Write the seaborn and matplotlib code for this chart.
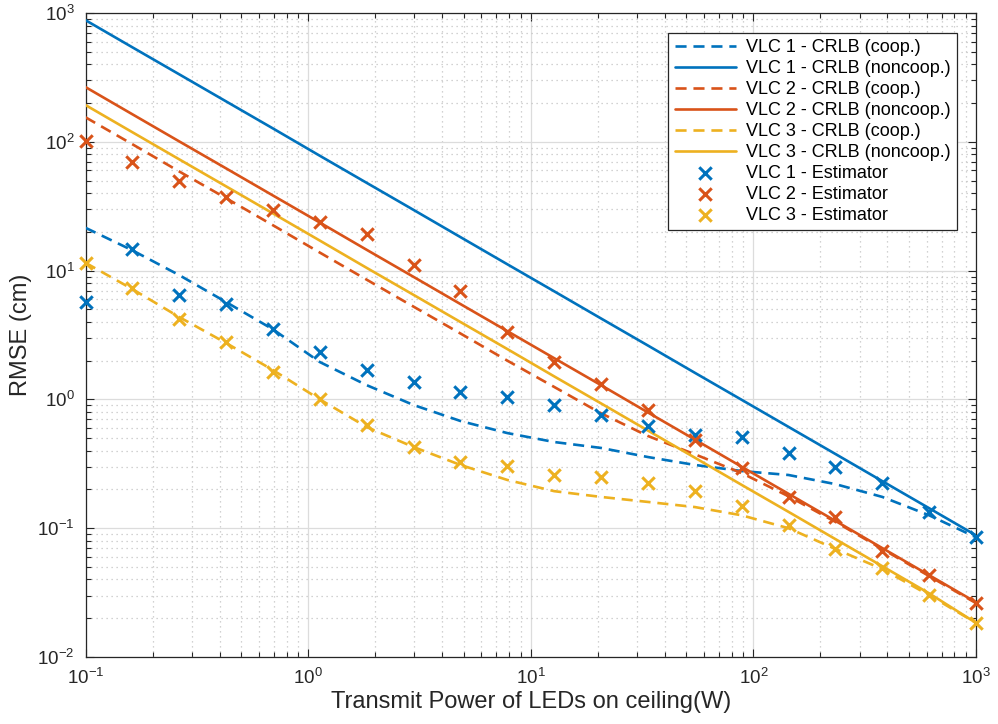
import numpy as np
import pandas as pd
import matplotlib
matplotlib.use("Agg")
import matplotlib.pyplot as plt
import seaborn as sns
from matplotlib.ticker import LogLocator, NullFormatter

# ---------------- data ----------------
power = [0.1, 0.162, 0.263, 0.428, 0.695, 1.129, 1.833, 2.976, 4.833, 7.848,
         12.74, 20.69, 33.6, 54.56, 88.59, 143.8, 233.6, 379.3, 615.8, 1000.0]

vlc1_coop = [21.5, 14.4, 9.25, 5.7, 3.5, 1.95, 1.29, 0.905, 0.68, 0.548,
             0.467, 0.42, 0.357, 0.31, 0.278, 0.259, 0.22, 0.175, 0.126, 0.085]
vlc1_noncoop = [880, 543, 335, 206, 127, 77.9, 48.0, 29.6, 18.2, 11.2,
                6.91, 4.25, 2.62, 1.61, 0.993, 0.612, 0.377, 0.232, 0.143, 0.088]
vlc2_coop = [155, 96, 59, 36.5, 22.5, 13.8, 8.5, 5.25, 3.25, 2.0,
             1.25, 0.78, 0.52, 0.375, 0.268, 0.177, 0.112, 0.069, 0.0425, 0.0262]
vlc2_noncoop = [266, 164, 101, 62.2, 38.3, 23.6, 14.5, 8.94, 5.50, 3.39,
                2.09, 1.29, 0.792, 0.488, 0.300, 0.185, 0.114, 0.0701, 0.0432, 0.0266]
vlc3_coop = [11.5, 7.2, 4.37, 2.74, 1.69, 1.0, 0.61, 0.427, 0.31, 0.237,
             0.194, 0.175, 0.16, 0.146, 0.126, 0.1, 0.069, 0.0482, 0.0302, 0.0184]
vlc3_noncoop = [193, 119, 73.3, 45.1, 27.8, 17.1, 10.5, 6.48, 3.99, 2.46,
                1.51, 0.931, 0.573, 0.353, 0.217, 0.134, 0.0823, 0.0507, 0.0312, 0.0184]

vlc1_est = [5.7, 14.7, 6.5, 5.5, 3.5, 2.33, 1.69, 1.36, 1.14, 1.04,
            0.905, 0.757, 0.621, 0.53, 0.51, 0.384, 0.30, 0.224, 0.134, 0.0855]
vlc2_est = [101, 69.7, 49.6, 37.3, 29.5, 23.8, 19.2, 11.0, 6.95, 3.34,
            1.95, 1.32, 0.83, 0.484, 0.293, 0.175, 0.122, 0.0666, 0.0434, 0.0263]
vlc3_est = [11.5, 7.3, 4.2, 2.79, 1.63, 1.0, 0.632, 0.43, 0.327, 0.304,
            0.259, 0.25, 0.224, 0.195, 0.149, 0.106, 0.069, 0.049, 0.0303, 0.0184]

BLUE, RED, YEL = "#0072BD", "#D95319", "#EDB120"

lines = [
    ("VLC 1 - CRLB (coop.)", vlc1_coop, BLUE, "--"),
    ("VLC 1 - CRLB (noncoop.)", vlc1_noncoop, BLUE, "-"),
    ("VLC 2 - CRLB (coop.)", vlc2_coop, RED, "--"),
    ("VLC 2 - CRLB (noncoop.)", vlc2_noncoop, RED, "-"),
    ("VLC 3 - CRLB (coop.)", vlc3_coop, YEL, "--"),
    ("VLC 3 - CRLB (noncoop.)", vlc3_noncoop, YEL, "-"),
]
points = [
    ("VLC 1 - Estimator", vlc1_est, BLUE),
    ("VLC 2 - Estimator", vlc2_est, RED),
    ("VLC 3 - Estimator", vlc3_est, YEL),
]

# ---------------- style ----------------
sns.set_style("ticks")
plt.rcParams["font.family"] = ["Liberation Sans", "DejaVu Sans"]
plt.rcParams["mathtext.fontset"] = "custom"
plt.rcParams["mathtext.rm"] = "Liberation Sans"
plt.rcParams["mathtext.it"] = "Liberation Sans"
plt.rcParams["mathtext.default"] = "regular"
plt.rcParams["axes.unicode_minus"] = False

fig = plt.figure(figsize=(9.98, 7.24), dpi=100)
ax = fig.add_axes([0.0857, 0.0925, 0.8923, 0.8895])

for lab, vals, col, ls in lines:
    df = pd.DataFrame({"power": power, "rmse": vals})
    sns.lineplot(data=df, x="power", y="rmse", ax=ax, color=col, linestyle=ls,
                 linewidth=1.9, label=lab, zorder=3)
for l in ax.get_lines():
    if l.get_linestyle() == "--":
        l.set_dashes((4.2, 2.6))

for lab, vals, col in points:
    df = pd.DataFrame({"power": power, "rmse": vals})
    sns.scatterplot(data=df, x="power", y="rmse", ax=ax, color=col, marker="x",
                    s=80, linewidth=2.2, label=lab, zorder=4, clip_on=False)

ax.set_xscale("log")
ax.set_yscale("log")
ax.set_xlim(0.1, 1000)
ax.set_ylim(0.01, 1000)

txtc = "#262626"
ax.xaxis.set_major_locator(LogLocator(base=10, numticks=10))
ax.yaxis.set_major_locator(LogLocator(base=10, numticks=10))
ax.xaxis.set_minor_locator(LogLocator(base=10, subs=np.arange(2, 10), numticks=20))
ax.yaxis.set_minor_locator(LogLocator(base=10, subs=np.arange(2, 10), numticks=20))
ax.xaxis.set_minor_formatter(NullFormatter())
ax.yaxis.set_minor_formatter(NullFormatter())

ax.grid(True, which="major", color="#DCDCDC", linestyle="-", linewidth=0.9, zorder=0)
ax.grid(True, which="minor", color="#C4C4C4", linestyle=(0, (1, 3)), linewidth=0.9, zorder=0)
ax.set_axisbelow(True)

ax.tick_params(which="both", direction="in", top=True, right=True, colors=txtc,
               labelsize=13.5, width=0.8)
ax.tick_params(which="major", length=6, pad=8)
ax.tick_params(which="minor", length=3.5)
for s in ax.spines.values():
    s.set_color(txtc)
    s.set_linewidth(0.9)

ax.set_xlabel("Transmit Power of LEDs on ceiling(W)", fontsize=17, color=txtc)
ax.set_ylabel("RMSE (cm)", fontsize=17, color=txtc)
ax.xaxis.set_label_coords(0.5, -0.052)
ax.yaxis.set_label_coords(-0.060, 0.5)

handles, labels = ax.get_legend_handles_labels()
leg = ax.legend(handles, labels, loc="upper right",
                bbox_to_anchor=(957 / 998, 1 - 33 / 724), bbox_transform=fig.transFigure,
                fontsize=13, frameon=True, fancybox=False, framealpha=1,
                edgecolor=txtc, borderpad=0.35, labelspacing=0.22,
                handlelength=3.4, handletextpad=0.55, borderaxespad=0.0)
leg.get_frame().set_linewidth(0.9)
for t in leg.get_texts():
    t.set_color("black")

fig.savefig("out.png", dpi=100)
